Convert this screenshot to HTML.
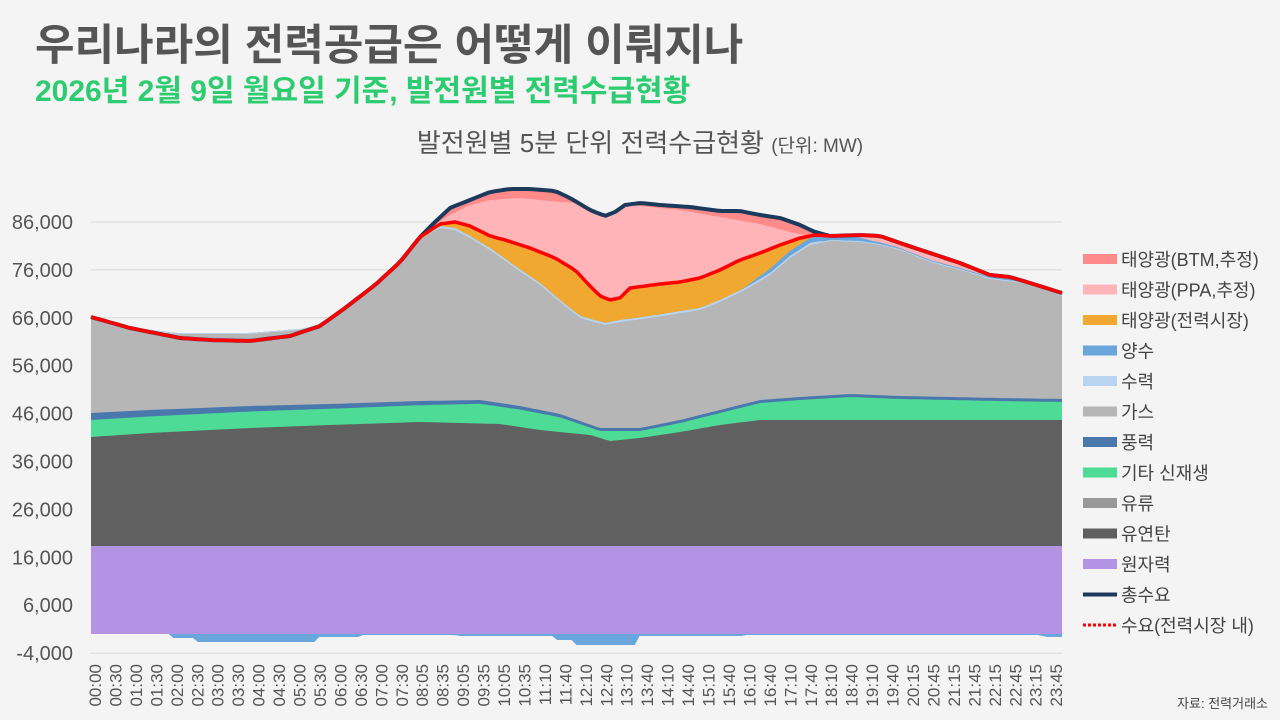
<!DOCTYPE html>
<html><head><meta charset="utf-8"><style>
body{margin:0;background:#f4f4f4;width:1280px;height:720px;overflow:hidden;font-family:"Liberation Sans","Noto Sans CJK KR",sans-serif;}
</style></head><body>
<svg id="s" width="1280" height="720" xmlns="http://www.w3.org/2000/svg" style="position:absolute;left:0;top:0">
<rect width="1280" height="720" fill="#f4f4f4"/>
<text x="35" y="60" font-size="43" font-weight="bold" fill="#555" font-family="Liberation Sans,Noto Sans CJK KR,sans-serif">우리나라의 전력공급은 어떻게 이뤄지나</text>
<text x="35" y="101" font-size="30" font-weight="bold" fill="#2ecc71" font-family="Liberation Sans,Noto Sans CJK KR,sans-serif">2026년 2월 9일 월요일 기준, 발전원별 전력수급현황</text>
<text x="640" y="152" text-anchor="middle" font-size="26" fill="#555" font-family="Liberation Sans,Noto Sans CJK KR,sans-serif">발전원별 5분 단위 전력수급현황 <tspan font-size="19">(단위: MW)</tspan></text>
<g id="grid"></g><g id="areas"></g><g id="lines"></g><g id="labels" font-family="Liberation Sans,Noto Sans CJK KR,sans-serif"></g>
<text x="1268" y="708" text-anchor="end" font-size="13" fill="#444" font-family="Liberation Sans,Noto Sans CJK KR,sans-serif">자료: 전력거래소</text>
</svg>
<script>
const NS="http://www.w3.org/2000/svg";
function el(p,t,a,txt){const e=document.createElementNS(NS,t);for(const k in a)e.setAttribute(k,a[k]);if(txt!=null)e.textContent=txt;document.getElementById(p).appendChild(e);return e;}
function interp(pts,x){if(x<=pts[0][0])return pts[0][1];for(let i=1;i<pts.length;i++){if(x<=pts[i][0]){const a=pts[i-1],b=pts[i];return a[1]+(b[1]-a[1])*(x-a[0])/(b[0]-a[0]);}}return pts[pts.length-1][1];}
const ticks=["86,000","76,000","66,000","56,000","46,000","36,000","26,000","16,000","6,000","-4,000"];
ticks.forEach((t,i)=>{const y=222+i*47.9;el("grid","line",{x1:91,x2:1062,y1:y,y2:y,stroke:"#d8d8d8","stroke-width":1});el("labels","text",{x:73,y:y+7,"text-anchor":"end","font-size":20,fill:"#555"},t);});
const X0=91,X1=1062;
const navyK=[[91,317],[130,328],[180,338],[210,340],[250,341],[290,336],[320,326],[345,308],[375,285],[400,262],[420,237],[435,222],[450,208],[470,200],[490,192],[510,189],[530,189],[555,191],[570,198],[590,210],[605,216],[615,212],[625,205],[640,203],[660,205],[690,207],[720,211],[740,211],[760,215],[780,218],[800,225],[815,232],[830,236],[860,235],[880,236],[900,243],[930,253],[960,263],[990,275],[1010,277],[1030,283],[1062,293]];
const redK=[[91,317],[130,328],[180,338],[210,340],[250,341],[290,336],[320,326],[345,308],[375,285],[400,262],[420,237],[440,224],[455,222],[470,226],[490,236],[505,240],[530,248],[555,258],[575,270],[590,286],[600,296],[610,300],[620,298],[630,288],[660,284],[680,282],[700,278],[720,270],[740,260],[760,253],[780,245],[800,238],[815,235],[830,236],[860,235],[880,236],[900,243],[930,253],[960,263],[990,275],[1010,277],[1030,283],[1062,293]];
const ppaK=[[420,237],[430,228],[450,215],[470,205],[490,200],[520,198],[560,202],[580,203],[600,205],[620,205],[640,206],[680,210],[720,217],[760,224],[790,232],[810,236],[830,236]];
const gasK=[[91,318],[130,328],[175,334],[250,334],[300,330],[320,326],[345,308],[375,286],[400,263],[420,238],[440,228],[455,230],[470,238],[490,250],[515,268],[540,285],[560,302],[580,318],[605,325],[620,322],[650,318],[700,310],[720,302],[745,290],[770,275],[790,258],[810,245],[830,241],[860,242],[880,245],[900,250],[930,262],[960,270],[990,279],[1030,284],[1062,296]];
const yangK=[[91,0],[740,0],[760,3],[780,5],[850,5],[870,2],[900,1],[1062,1]];
const windK=[[91,413],[150,410],[250,406],[330,404],[420,401],[480,400],[520,406],[560,414],[600,428],[640,428],[680,420],[720,410],[760,400],[800,397],[850,394],[900,396],[1000,398],[1062,399]];
const gwK=[[91,7],[300,5],[600,3],[1062,3]];
const coalK=[[91,437],[150,433],[250,428],[330,425],[420,422],[500,424],[540,430],[590,435],[610,441],[640,438],[680,432],[720,425],[760,420],[1062,420]];
const negK=[[91,634],[172,634],[173,638],[193,638],[194,642],[315,642],[316,637],[360,637],[361,635],[455,635],[456,636],[555,636],[556,640],[575,640],[576,645],[635,645],[636,636],[745,636],[746,635],[1040,635],[1045,637],[1062,637]];
const N=200,xs=[];for(let i=0;i<=N;i++)xs.push(X0+(X1-X0)*i/N);
const L={};
xs.forEach(x=>{
 const red=interp(redK,x);let navy=interp(navyK,x);let ppa=(x>=420&&x<=830)?interp(ppaK,x):red;
 navy=Math.min(navy,red);ppa=Math.max(Math.min(ppa,red),navy);
 let gas=interp(gasK,x);
 let orange=(x>=425&&x<=815)?red:gas; orange=Math.min(orange,gas);
 const sury=gas-((x>440&&x<820)?2:1);
 const yang=Math.min(sury-interp(yangK,x),sury);
 orange=Math.min(orange,yang);
 const wind=interp(windK,x),green=wind+interp(gwK,x),coal=interp(coalK,x);
 const v={navy,ppa,orange,yang,sury,gas,wind,green,coal,nuc:546,neg:interp(negK,x),red};
 for(const k in v)(L[k]=L[k]||[]).push([x,v[k]]);
});
function area(top,bottom,color){let d="M"+L[top].map(p=>p[0].toFixed(1)+","+p[1].toFixed(1)).join("L");const b=[...L[top]].reverse().map(p=>[p[0],634]);d+="L"+b.map(p=>p[0].toFixed(1)+","+p[1].toFixed(1)).join("L")+"Z";el("areas","path",{d,fill:color});}
area("navy",null,"#ff8a8a");area("ppa",null,"#ffb4b8");area("orange",null,"#f0a830");area("yang",null,"#6aa6dc");area("sury",null,"#b8d4ee");area("gas",null,"#b6b6b6");area("wind",null,"#4a78ad");area("green",null,"#4ddb95");area("coal",null,"#606060");area("nuc",null,"#b393e3");
el("areas","path",{d:"M91,634"+L.neg.map(p=>"L"+p[0].toFixed(1)+","+p[1]).join("")+"L1062,634Z",fill:"#6aa6dc"});
const pl=k=>L[k].map(p=>p[0].toFixed(1)+","+p[1].toFixed(1)).join(" ");
el("lines","polyline",{points:pl("navy"),fill:"none",stroke:"#1b3a5c","stroke-width":4,"stroke-linejoin":"round"});
el("lines","polyline",{points:pl("red"),fill:"none",stroke:"#ff0000","stroke-width":3.5,"stroke-linejoin":"round"});
const xl="00:00,00:30,01:00,01:30,02:00,02:30,03:00,03:30,04:00,04:30,05:00,05:30,06:00,06:30,07:00,07:30,08:05,08:35,09:05,09:35,10:05,10:35,11:10,11:40,12:10,12:40,13:10,13:40,14:10,14:40,15:10,15:40,16:10,16:40,17:10,17:40,18:10,18:40,19:10,19:40,20:15,20:45,21:15,21:45,22:15,22:45,23:15,23:45".split(",");
xl.forEach((t,i)=>{const x=95+i*20.45;el("labels","text",{x:0,y:0,transform:`translate(${x+6},664) rotate(-90)`,"text-anchor":"end","font-size":17,fill:"#555"},t);});
const leg=[["태양광(BTM,추정)","#ff8a8a"],["태양광(PPA,추정)","#ffb4b8"],["태양광(전력시장)","#f0a830"],["양수","#6aa6dc"],["수력","#b8d4ee"],["가스","#b6b6b6"],["풍력","#4a78ad"],["기타 신재생","#4ddb95"],["유류","#999999"],["유연탄","#606060"],["원자력","#b393e3"]];
leg.forEach((l,i)=>{const y=259+i*30.5;el("labels","rect",{x:1083,y:y-5,width:34,height:10,fill:l[1]});el("labels","text",{x:1121,y:y+7,"font-size":18,fill:"#444"},l[0]);});
let y=259+11*30.5;el("labels","line",{x1:1083,x2:1117,y1:y,y2:y,stroke:"#1b3a5c","stroke-width":4});el("labels","text",{x:1121,y:y+7,"font-size":18,fill:"#444"},"총수요");
y+=30.5;el("labels","line",{x1:1083,x2:1117,y1:y,y2:y,stroke:"#ff0000","stroke-width":3,"stroke-dasharray":"3,2"});el("labels","text",{x:1121,y:y+7,"font-size":18,fill:"#444"},"수요(전력시장 내)");
</script>
</body></html>
